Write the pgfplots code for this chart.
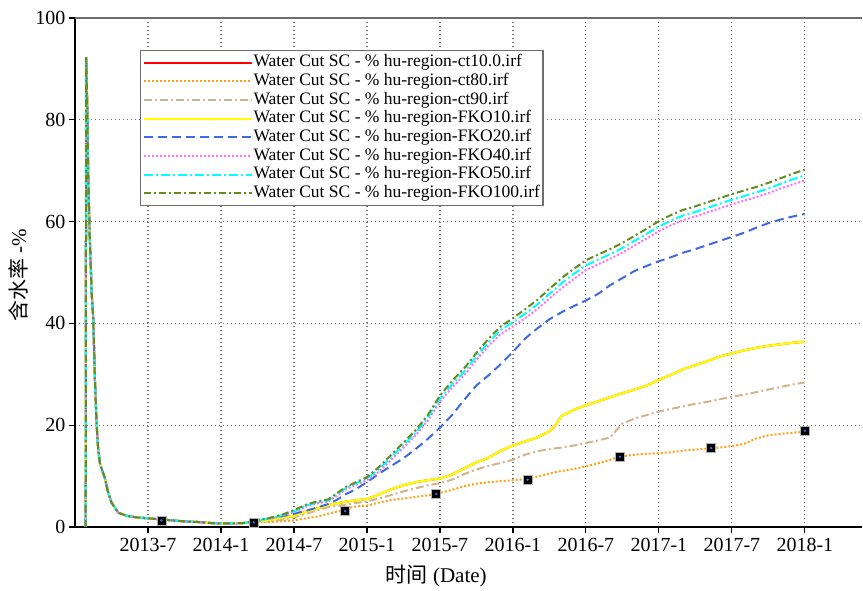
\documentclass[border=0pt]{standalone}
\usepackage{pgfplots}
\pgfplotsset{compat=1.18}
\usepackage{pgfplotstable}
\usepackage{fontspec}
\setmainfont{Liberation Serif}
\newfontfamily\cjk{Noto Sans CJK SC}
\definecolor{cRed}{RGB}{255,0,0}
\definecolor{cOrange}{RGB}{255,160,20}
\definecolor{cTan}{RGB}{210,180,140}
\definecolor{cYellow}{RGB}{255,255,0}
\definecolor{cBlue}{RGB}{65,105,225}
\definecolor{cPink}{RGB}{255,110,255}
\definecolor{cCyan}{RGB}{0,255,255}
\definecolor{cGreen}{RGB}{100,140,30}
\definecolor{cGrid}{RGB}{110,110,110}
\pgfplotstableread{
m o t y b p c g
0.88 0 0 0 0 0 0 0
0.92 92.3 92.3 92.3 92.3 92.3 92.3 92.3
1.03 80 80 80 80 80 80 80
1.09 69 69 69 69 69 69 69
1.2 58 58 58 58 58 58 58
1.37 46 46 46 46 46 46 46
1.5 41 41 41 41 41 41 41
1.64 29 29 29 29 29 29 29
1.78 20 20 20 20 20 20 20
1.9 15.5 15.5 15.5 15.5 15.5 15.5 15.5
2.05 12.5 12.5 12.5 12.5 12.5 12.5 12.5
2.47 9.5 9.5 9.5 9.5 9.5 9.5 9.5
2.7 7.0 7.0 7.0 7.0 7.0 7.0 7.0
3.0 4.8 4.8 4.8 4.8 4.8 4.8 4.8
3.56 2.8 2.8 2.8 2.8 2.8 2.8 2.8
4.25 2.2 2.2 2.2 2.2 2.2 2.2 2.2
5 1.9 1.9 1.9 1.9 1.9 1.9 1.9
6 1.7 1.7 1.7 1.7 1.7 1.7 1.7
7 1.5 1.5 1.5 1.5 1.5 1.5 1.5
8 1.3 1.3 1.3 1.3 1.3 1.3 1.3
9 1.1 1.1 1.1 1.1 1.1 1.1 1.1
10 1.0 1.0 1.0 1.0 1.0 1.0 1.0
11 0.8 0.8 0.8 0.8 0.8 0.8 0.8
12 0.7 0.7 0.7 0.7 0.7 0.7 0.7
13 0.7 0.7 0.7 0.7 0.7 0.7 0.7
14 0.8 0.8 0.8 0.8 0.8 0.8 0.8
15 1.0 1.0 1.0 1.2 1.3 1.3 1.3
16 1.0 1.1 1.4 1.7 1.6 1.7 1.8
17 1.1 1.4 1.8 2.1 2.1 2.3 2.4
18 1.3 1.9 2.2 2.6 2.9 3.1 3.3
19 1.7 2.6 3.0 3.2 4.0 4.2 4.4
20 2.1 3.3 3.7 3.9 4.7 4.9 5.1
20.8 2.6 3.9 4.3 4.5 5.0 5.2 5.4
21.5 3.0 4.15 4.65 5.3 6.1 6.4 6.6
22.3 3.6 4.4 5.0 6.5 7.4 7.7 7.9
23 4.0 4.7 5.2 7.3 8.2 8.5 8.7
24 4.2 5.0 5.5 8.8 9.2 9.5 9.8
25 4.8 5.6 6.4 10.5 10.9 11.4 11.8
26 5.3 6.3 7.4 12.0 13.2 13.7 14.2
27 5.6 7.0 8.2 13.5 15.6 16.1 16.6
28 5.9 7.6 8.8 15.3 18.0 18.5 19.0
29 6.2 8.2 9.2 17.3 20.9 21.5 22.0
30 6.7 8.6 9.5 19.5 24.6 25.2 25.8
31 7.3 9.3 10.3 22.0 27.4 28.0 28.7
32 8.0 10.4 11.5 25.0 29.8 30.5 31.2
33 8.5 11.3 12.7 27.8 32.8 33.5 34.2
34 8.8 12.0 13.6 29.8 35.6 36.3 37.0
35 9.0 12.6 15.0 32.0 37.9 38.7 39.4
36 9.2 13.2 16.0 34.4 39.4 40.2 41.0
37 9.4 14.2 16.8 37.0 41.0 41.9 42.8
38 9.9 14.9 17.6 39.0 42.8 43.7 44.6
39 10.5 15.3 18.8 40.8 44.9 45.8 46.8
39.5 10.8 15.45 20.0 41.5 45.9 46.8 47.8
40 11.0 15.6 21.8 42.2 46.9 47.9 48.9
41 11.4 16.0 23.0 43.4 48.7 49.7 50.7
42 11.9 16.5 23.9 44.5 50.5 51.4 52.4
43 12.5 17.0 24.7 45.8 51.6 52.5 53.5
44 13.2 17.6 25.5 47.5 52.7 53.6 54.6
44.5 13.6 19.0 25.9 48.2 53.3 54.2 55.2
45 13.9 20.3 26.3 48.9 53.9 54.8 55.8
46 14.2 21.3 27.0 50.3 55.3 56.2 57.2
47 14.4 22.0 27.8 51.3 56.7 57.6 58.6
48 14.5 22.7 28.9 52.2 58.1 59.0 60.1
49 14.7 23.2 29.9 53.0 59.3 60.2 61.3
50 15.0 23.7 31.0 53.9 60.3 61.2 62.3
51 15.2 24.2 31.8 54.6 61.0 61.9 63.0
52 15.4 24.6 32.6 55.4 61.8 62.7 63.8
53 15.6 25.1 33.5 56.2 62.6 63.5 64.6
54 15.9 25.6 34.1 57.0 63.4 64.3 65.4
55 16.3 26.0 34.7 57.8 64.1 65.0 66.1
56 17.4 26.5 35.2 58.8 64.8 65.7 66.8
57 18.0 27.0 35.6 59.7 65.6 66.5 67.6
58 18.3 27.5 35.9 60.4 66.5 67.4 68.5
59 18.5 28.0 36.2 61.0 67.3 68.3 69.4
60 18.8 28.4 36.4 61.5 68.1 69.1 70.2
}\wc
\pgfplotstableread{
m v
7.1 1.3
14.7 0.9
22.2 3.1
29.7 6.5
37.2 9.3
44.8 13.8
52.3 15.5
60.0 18.9
}\obs
\begin{document}
\begin{tikzpicture}
\begin{axis}[
  scale only axis, width=787pt, height=509pt,
  xmin=0, xmax=64.7, ymin=0, ymax=100,
  axis x line=bottom, axis y line=left,
  x axis line style={-, line width=1.8pt, black},
  y axis line style={-, line width=1.5pt, black},
  xtick={6,12,...,60},
  xticklabels={2013-7,2014-1,2014-7,2015-1,2015-7,2016-1,2016-7,2017-1,2017-7,2018-1},
  ytick={0,20,...,100},
  tick align=outside, major tick length=6pt,
  tick style={black, line width=1.2pt},
  tick label style={font=\fontsize{20}{24}\selectfont},
  xticklabel style={yshift=-2pt},
  /pgf/number format/assume math mode=true,
  grid=major,
  major grid style={draw=cGrid, line width=1.2pt, dash pattern=on 1.3pt off 2.7pt},
  xlabel={{\cjk 时间} (Date)},
  ylabel={{\cjk 含水率} -\%},
  xlabel style={font=\fontsize{21}{24}\selectfont, at={(axis description cs:0.459,-0.097)}, anchor=center},
  ylabel style={font=\fontsize{21}{24}\selectfont, at={(axis description cs:-0.0724,0.495)}, anchor=center},
  legend style={at={(axis description cs:0.0826,0.937)}, anchor=north west, draw=cGrid, line width=1.2pt,
    font=\fontsize{17.5}{19}\selectfont, inner xsep=2pt, inner ysep=2.5pt, row sep=0pt,
    nodes={inner sep=1pt, text height=12.5pt, text depth=4.2pt}, cells={anchor=west}},
  legend image code/.code={\draw[#1, line width=2pt] (0pt,0pt) -- (108pt,0pt);},
]
\addplot[cRed, line width=2pt] table[x=m,y=y]{\wc};
\addlegendentry{Water Cut SC - \% hu-region-ct10.0.irf}
\addplot[cOrange, line width=2pt, dash pattern=on 2pt off 2pt] table[x=m,y=o]{\wc};
\addlegendentry{Water Cut SC - \% hu-region-ct80.irf}
\addplot[cTan, line width=2pt, dash pattern=on 8pt off 3pt on 2pt off 3pt] table[x=m,y=t]{\wc};
\addlegendentry{Water Cut SC - \% hu-region-ct90.irf}
\addplot[cYellow, line width=2.2pt] table[x=m,y=y]{\wc};
\addlegendentry{Water Cut SC - \% hu-region-FKO10.irf}
\addplot[cBlue, line width=2pt, dash pattern=on 9pt off 5pt] table[x=m,y=b]{\wc};
\addlegendentry{Water Cut SC - \% hu-region-FKO20.irf}
\addplot[cPink, line width=2pt, dash pattern=on 2pt off 2pt] table[x=m,y=p]{\wc};
\addlegendentry{Water Cut SC - \% hu-region-FKO40.irf}
\addplot[cCyan, line width=2pt, dash pattern=on 9pt off 3pt on 2pt off 3pt] table[x=m,y=c]{\wc};
\addlegendentry{Water Cut SC - \% hu-region-FKO50.irf}
\addplot[draw=cGreen, line width=2pt, dash pattern=on 7pt off 3pt on 2pt off 3pt] table[x=m,y=g]{\wc};
\addlegendentry{Water Cut SC - \% hu-region-FKO100.irf}
\addplot[only marks, mark=square*, mark size=4.5pt, mark options={fill=black, draw=gray!60, line width=0.6pt}, forget plot] table[x=m,y=v]{\obs};
\addplot[only marks, mark=*, mark size=1pt, mark options={fill=cBlue, draw=cBlue}, forget plot] table[x=m,y=v]{\obs};
\draw[cGrid, line width=1.5pt] (rel axis cs:0,1) -- (rel axis cs:1,1);
\end{axis}
\path ([shift={(-75pt,-59pt)}]current axis.south west) rectangle ([shift={(1pt,18pt)}]current axis.north east);
\end{tikzpicture}
\end{document}
